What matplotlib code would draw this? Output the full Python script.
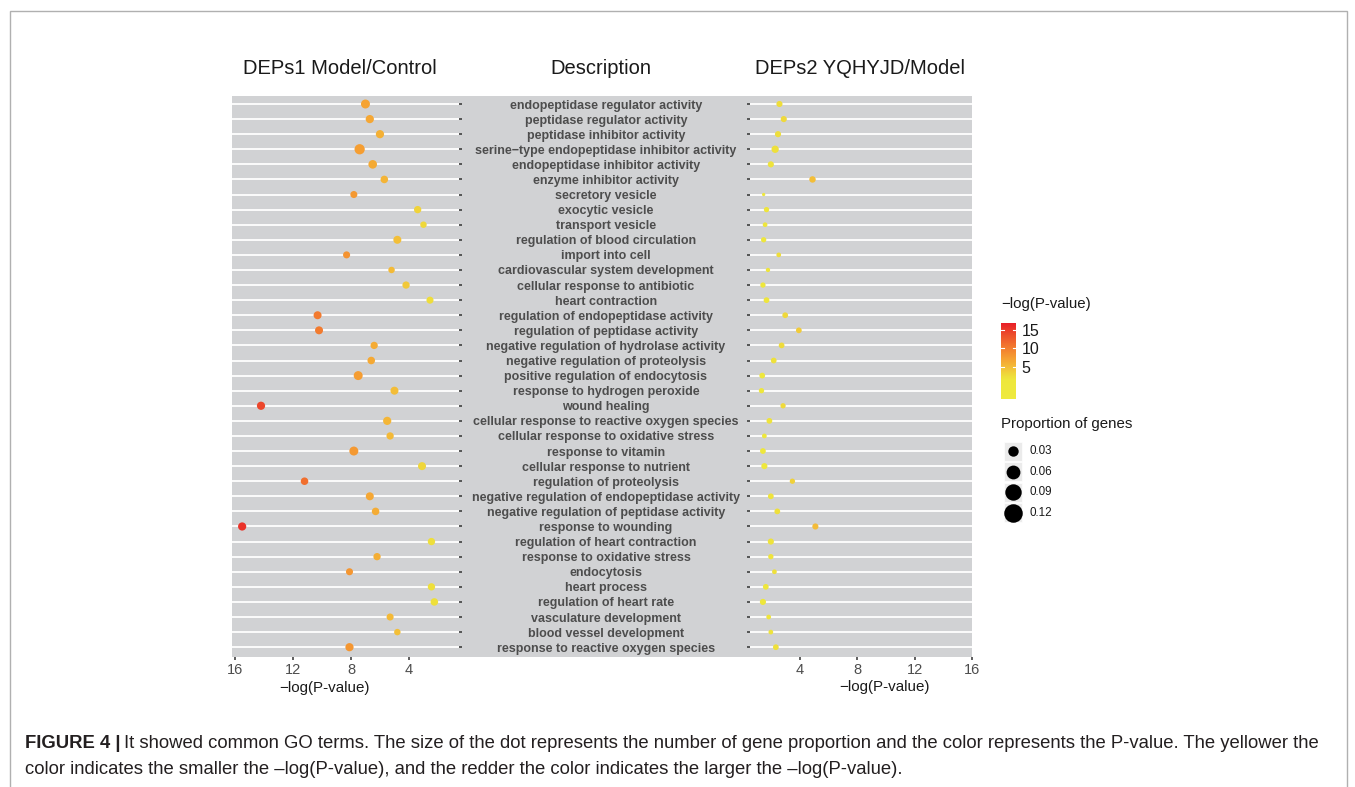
import numpy as np
import matplotlib
matplotlib.use("Agg")
import matplotlib.pyplot as plt
from matplotlib.colors import LinearSegmentedColormap, Normalize
from matplotlib.patches import Rectangle

plt.rcParams['font.family'] = ['Liberation Sans', 'DejaVu Sans']

# GO terms, top to bottom
terms = [
    "endopeptidase regulator activity", "peptidase regulator activity",
    "peptidase inhibitor activity", "serine\u2212type endopeptidase inhibitor activity",
    "endopeptidase inhibitor activity", "enzyme inhibitor activity",
    "secretory vesicle", "exocytic vesicle", "transport vesicle",
    "regulation of blood circulation", "import into cell",
    "cardiovascular system development", "cellular response to antibiotic",
    "heart contraction", "regulation of endopeptidase activity",
    "regulation of peptidase activity", "negative regulation of hydrolase activity",
    "negative regulation of proteolysis", "positive regulation of endocytosis",
    "response to hydrogen peroxide", "wound healing",
    "cellular response to reactive oxygen species",
    "cellular response to oxidative stress", "response to vitamin",
    "cellular response to nutrient", "regulation of proteolysis",
    "negative regulation of endopeptidase activity",
    "negative regulation of peptidase activity", "response to wounding",
    "regulation of heart contraction", "response to oxidative stress",
    "endocytosis", "heart process", "regulation of heart rate",
    "vasculature development", "blood vessel development",
    "response to reactive oxygen species",
]

# DEPs1 Model/Control : -log(P-value) and proportion of genes
logp1 = [7.0, 6.7, 6.0, 7.4, 6.5, 5.7, 7.8, 3.4, 3.0, 4.8, 8.3, 5.2, 4.2, 2.55,
         10.3, 10.2, 6.4, 6.6, 7.5, 5.0, 14.2, 5.5, 5.3, 7.8, 3.1, 11.2, 6.7,
         6.3, 15.5, 2.45, 6.2, 8.1, 2.45, 2.25, 5.3, 4.8, 8.1]
prop1 = [0.021, 0.017, 0.017, 0.029, 0.019, 0.014, 0.012, 0.013, 0.010, 0.016,
         0.012, 0.010, 0.013, 0.012, 0.016, 0.016, 0.013, 0.014, 0.021, 0.016,
         0.017, 0.017, 0.013, 0.021, 0.016, 0.014, 0.016, 0.014, 0.017, 0.013,
         0.013, 0.012, 0.013, 0.014, 0.012, 0.010, 0.017]

# DEPs2 YQHYJD/Model
logp2 = [2.6, 2.9, 2.5, 2.3, 2.0, 4.9, 1.5, 1.7, 1.6, 1.5, 2.55, 1.8, 1.45, 1.7,
         3.0, 3.95, 2.75, 2.2, 1.4, 1.35, 2.85, 1.9, 1.55, 1.45, 1.55, 3.5, 2.0,
         2.45, 5.1, 2.0, 2.0, 2.25, 1.65, 1.45, 1.85, 2.0, 2.35]
prop2 = [0.009, 0.009, 0.009, 0.013, 0.009, 0.010, 0.005, 0.007, 0.006, 0.007,
         0.006, 0.0055, 0.007, 0.008, 0.008, 0.008, 0.008, 0.008, 0.008, 0.007,
         0.007, 0.008, 0.006, 0.008, 0.009, 0.007, 0.008, 0.008, 0.009, 0.009,
         0.007, 0.006, 0.008, 0.009, 0.006, 0.006, 0.008]

x_ticks = [4, 8, 12, 16]
cbar_ticks = [5, 10, 15]
size_breaks = [0.03, 0.06, 0.09, 0.12]

W, H = 1355, 787
fig = plt.figure(figsize=(W / 100, H / 100), dpi=100)

def fx(px):
    return px / W

def fy(py):
    return 1 - py / H

PANEL = '#D1D2D4'
TXT = '#4D4D4D'

cmap = LinearSegmentedColormap.from_list('ylrd', [
    (0.0, '#EEEA3E'), (0.25, '#EEE73C'), (0.30, '#EEDE3B'), (0.42, '#F3BD38'),
    (0.52, '#F5A333'), (0.66, '#F3802F'), (0.86, '#EC4B2B'), (1.0, '#E81E28')])
norm = Normalize(vmin=-3.6, vmax=16.8)

def dot_size(p):
    # ggplot-like area scale -> diameter in px -> marker area in pt^2
    p = np.asarray(p, dtype=float)
    d = 3.3 * (1 + 5 * np.sqrt(np.clip((p - 0.005) / 0.135, 0, None)))
    return (d * 0.72) ** 2

rows = np.arange(len(terms))
ylim = (36.65, -0.53)
bottom, top = fy(657), fy(96)

# middle (description) panel, drawn underneath
axm = fig.add_axes([fx(459), bottom, fx(750) - fx(459), top - bottom], zorder=0)
axm.set_facecolor(PANEL)
axm.set_xlim(0, 1)
axm.set_ylim(*ylim)
for s in axm.spines.values():
    s.set_visible(False)
axm.set_xticks([])
axm.set_yticks([])
for i, t in enumerate(terms):
    axm.text(0.505, i + 0.1, t, ha='center', va='center', fontsize=9.0,
             fontweight='bold', color=TXT)

def panel(left_px, right_px, vals, props, xlim, yside):
    ax = fig.add_axes([fx(left_px), bottom, fx(right_px) - fx(left_px), top - bottom],
                      zorder=1)
    ax.set_facecolor(PANEL)
    for s in ax.spines.values():
        s.set_visible(False)
    ax.set_xlim(*xlim)
    ax.set_ylim(*ylim)
    ax.set_yticks(rows)
    ax.set_yticklabels([])
    ax.grid(axis='y', color='white', linewidth=1.3)
    ax.set_axisbelow(True)
    ax.set_xticks(x_ticks)
    ax.set_xticklabels([str(v) for v in x_ticks])
    ax.tick_params(axis='x', length=2.5, width=1.1, color='#333333',
                   labelsize=10.5, labelcolor=TXT, pad=2)
    ax.tick_params(axis='y', length=2.5, width=1.1, color='#333333',
                   left=(yside == 'left'), right=(yside == 'right'))
    ax.scatter(vals, rows, s=dot_size(props), c=vals, cmap=cmap, norm=norm,
               linewidths=0, zorder=3)
    return ax

panel(232, 459, logp1, prop1, (16.2, 0.55), 'right')
panel(750, 972, logp2, prop2, (0.55, 16.0), 'left')

# titles
for xp, t in [(340, "DEPs1 Model/Control"), (601, "Description"),
              (860, "DEPs2 YQHYJD/Model")]:
    fig.text(fx(xp), fy(69), t, ha='center', va='center', fontsize=14.5,
             color='#1a1a1a')
fig.text(fx(324), fy(688), "\u2212log(P-value)", ha='center', va='center',
         fontsize=10.9, color='#1a1a1a')
fig.text(fx(885), fy(687), "\u2212log(P-value)", ha='center', va='center',
         fontsize=10.9, color='#1a1a1a')

# colour legend
fig.text(fx(1001), fy(304), "\u2212log(P-value)", ha='left', va='center',
         fontsize=10.8, color='#1a1a1a')
cax = fig.add_axes([fx(1001), fy(399), fx(15), fy(323) - fy(399)])
sm = plt.cm.ScalarMappable(norm=norm, cmap=cmap)
cb = fig.colorbar(sm, cax=cax, ticks=cbar_ticks)
cb.outline.set_visible(False)
cax.tick_params(length=0, labelsize=11.5, labelcolor='#1a1a1a', pad=4)
for v in cbar_ticks:
    cax.plot([0, 0.2], [v, v], color='white', lw=0.8, transform=cax.get_yaxis_transform())
    cax.plot([0.8, 1.0], [v, v], color='white', lw=0.8, transform=cax.get_yaxis_transform())

# size legend
fig.text(fx(1001), fy(424), "Proportion of genes", ha='left', va='center',
         fontsize=10.8, color='#1a1a1a')
lax = fig.add_axes([fx(1000), fy(530), fx(80), fy(440) - fy(530)])
lax.set_xlim(1000, 1080)
lax.set_ylim(530, 440)
lax.axis('off')
key_y = [451, 471.7, 492.3, 512.7]
for yk, p in zip(key_y, size_breaks):
    lax.add_patch(Rectangle((1004, yk - 9.5), 18, 19, facecolor='#EBEBEB',
                            edgecolor='white', lw=0.5))
    lax.scatter([1013], [yk], s=dot_size([p]), color='black', linewidths=0)
    lax.text(1030, yk, f"{p:.2f}", ha='left', va='center', fontsize=8.4,
             color='#1a1a1a')

# frame around figure
fig.add_artist(Rectangle((fx(9.5), -0.05), fx(1347) - fx(9.5), fy(11) + 0.05,
                         transform=fig.transFigure, fill=False,
                         edgecolor='#B0B0B0', lw=1.0))

# caption
renderer = fig.canvas.get_renderer()
cap1 = fig.text(fx(25), fy(743), "FIGURE 4 |", ha='left', va='center',
                fontsize=13.3, fontweight='bold', color='#231F20')
bb = cap1.get_window_extent(renderer)
fig.text(bb.x1 / W + fx(4), fy(743),
         "It showed common GO terms. The size of the dot represents the number of gene "
         "proportion and the color represents the P-value. The yellower the",
         ha='left', va='center', fontsize=13.3, color='#231F20')
fig.text(fx(25), fy(770),
         "color indicates the smaller the \u2013log(P-value), and the redder the color "
         "indicates the larger the \u2013log(P-value).",
         ha='left', va='center', fontsize=13.3, color='#231F20')

fig.savefig("out.png", dpi=100)
